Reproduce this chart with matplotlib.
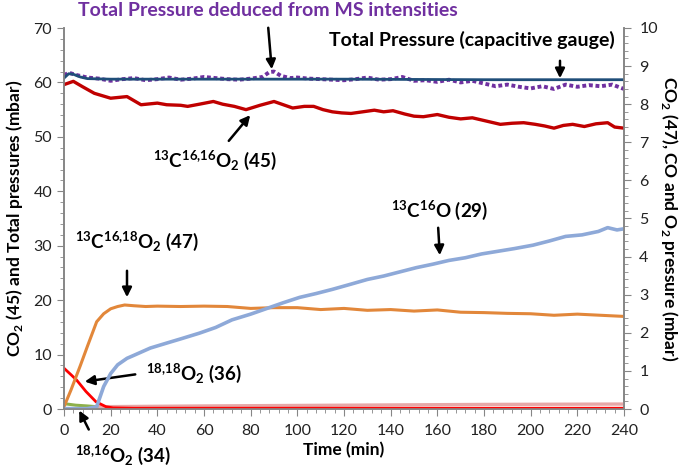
import numpy as np
import matplotlib
matplotlib.use('Agg')
import matplotlib.pyplot as plt
from matplotlib.ticker import MultipleLocator

plt.rcParams['font.family'] = ['Lato', 'DejaVu Sans']
plt.rcParams['mathtext.fontset'] = 'custom'
plt.rcParams['mathtext.rm'] = 'Lato'
plt.rcParams['mathtext.bf'] = 'Lato:bold'

# CO2 (45), left axis (mbar)
t_45 = [0, 4, 8, 13, 20, 27, 33, 40, 44, 50, 53, 58, 64, 68, 73, 78, 84, 90, 94, 98, 103, 107, 111, 115,
        119, 123, 128, 133, 137, 141, 146, 150, 154, 160, 165, 170, 175, 180, 184, 187, 192, 197, 202,
        206, 210, 214, 218, 223, 228, 233, 236, 240]
p_45 = [59.6, 60.2, 59.2, 58.0, 57.1, 57.4, 55.9, 56.2, 55.9, 55.8, 55.6, 56.0, 56.5, 56.0, 55.6, 55.0,
        55.8, 56.5, 55.9, 55.3, 55.6, 55.6, 55.0, 54.6, 54.4, 54.3, 54.6, 54.9, 54.6, 54.8, 54.2, 53.8,
        53.7, 54.1, 53.6, 53.3, 53.5, 53.0, 52.6, 52.3, 52.5, 52.6, 52.3, 52.0, 51.6, 52.1, 52.3, 51.9,
        52.4, 52.6, 51.8, 51.6]

# total pressure from MS intensities, left axis
t_ms = [0, 2, 5, 10, 15, 20, 25, 30, 35, 40, 45, 50, 55, 60, 65, 70, 75, 80, 85, 88, 90, 93, 97, 100,
        105, 110, 115, 120, 125, 130, 135, 140, 145, 150, 155, 160, 165, 170, 175, 180, 185, 190, 195,
        200, 205, 210, 215, 220, 225, 230, 235, 240]
p_ms = [61.3, 61.8, 61.4, 60.9, 60.7, 60.3, 60.6, 60.8, 60.4, 60.6, 60.9, 60.5, 60.7, 61.0, 60.8, 60.6,
        60.5, 60.7, 61.0, 61.9, 62.0, 61.2, 60.8, 60.9, 60.7, 60.6, 60.5, 60.4, 60.6, 60.9, 60.5, 60.6,
        61.0, 60.3, 60.4, 60.1, 60.5, 60.0, 60.3, 59.8, 59.3, 59.6, 59.2, 58.9, 59.3, 58.8, 59.6, 59.2,
        59.5, 59.3, 59.6, 58.8]

# total pressure from capacitive gauge, left axis
t_gauge = [0, 2, 4, 7, 10, 20, 60, 120, 180, 240]
p_gauge = [60.8, 61.6, 61.5, 61.0, 60.7, 60.6, 60.6, 60.6, 60.5, 60.5]

# CO2 (47), right axis
t_47 = [0, 3, 7, 10, 14, 17, 20, 23, 26, 30, 35, 40, 50, 60, 70, 80, 90, 100, 110, 120, 130, 140, 150,
        160, 170, 180, 190, 200, 210, 220, 230, 240]
p_47 = [0.06, 0.5, 1.14, 1.64, 2.29, 2.5, 2.63, 2.69, 2.73, 2.71, 2.69, 2.7, 2.69, 2.7, 2.69, 2.64, 2.66,
        2.66, 2.61, 2.64, 2.59, 2.61, 2.57, 2.6, 2.54, 2.53, 2.51, 2.5, 2.46, 2.49, 2.46, 2.43]

# CO (29), right axis
t_29 = [0, 10, 14, 17, 20, 23, 27, 30, 37, 44, 50, 58, 65, 72, 80, 87, 94, 101, 108, 115, 122, 130, 137,
        144, 151, 158, 165, 172, 179, 186, 193, 201, 208, 215, 222, 229, 233, 237, 240]
p_29 = [0.01, 0.01, 0.06, 0.59, 0.93, 1.16, 1.33, 1.41, 1.6, 1.73, 1.84, 1.99, 2.14, 2.34, 2.49, 2.64,
        2.79, 2.93, 3.03, 3.14, 3.26, 3.4, 3.49, 3.6, 3.71, 3.8, 3.9, 3.97, 4.07, 4.14, 4.21, 4.3, 4.41,
        4.53, 4.57, 4.66, 4.76, 4.7, 4.73]

# O2 (36) and O2 (34), right axis
t_36 = [0, 3, 5.4, 9.4, 13.7, 18, 21, 30, 60, 120, 180, 240]
p_36 = [1.07, 0.9, 0.76, 0.46, 0.19, 0.06, 0.03, 0.02, 0.02, 0.02, 0.02, 0.02]
t_34 = [0, 5, 10, 14]
p_34 = [0.14, 0.1, 0.08, 0.06]
t_34b = [14, 60, 120, 180, 240]
p_34b = [0.06, 0.08, 0.1, 0.12, 0.13]

fig = plt.figure(figsize=(6.85, 4.73), dpi=100)
ax = fig.add_axes([64/685, 1-409/473, 560/685, 381/473])
ax2 = ax.twinx()

ax.plot(t_45, p_45, color='#C00000', lw=2.4, zorder=3)
ax.plot(t_ms, p_ms, color='#7030A0', lw=2.8, ls=(0, (1, 0.7)), zorder=3)
ax.plot(t_gauge, p_gauge, color='#1F4E79', lw=2.0, zorder=4)

ax2.plot(t_34b, p_34b, color='#E6A8A8', lw=2.4)
ax2.plot(t_36, p_36, color='#FF0000', lw=2.0)
ax2.plot(t_34, p_34, color='#8DB04A', lw=2.2)
ax2.plot(t_47, p_47, color='#E2873A', lw=2.2)
ax2.plot(t_29, p_29, color='#8EA9D8', lw=2.6)

ax.set_xlim(0, 240)
ax.set_ylim(0, 70)
ax2.set_ylim(0, 10)
ax.xaxis.set_major_locator(MultipleLocator(20))
ax.xaxis.set_minor_locator(MultipleLocator(4))
ax.yaxis.set_major_locator(MultipleLocator(10))
ax.yaxis.set_minor_locator(MultipleLocator(2))
ax2.yaxis.set_major_locator(MultipleLocator(1))
ax2.yaxis.set_minor_locator(MultipleLocator(0.2))

grey = '#868686'
for a in (ax, ax2):
    a.spines['top'].set_visible(False)
    for s in ('left', 'right', 'bottom'):
        a.spines[s].set_color(grey)
        a.spines[s].set_linewidth(1.2)
    a.tick_params(which='both', direction='out', color=grey, labelsize=11.5, labelcolor='#222222')
    a.tick_params(which='major', length=5)
    a.tick_params(which='minor', length=3)
ax.tick_params(axis='x', pad=6)
ax2.tick_params(axis='y', pad=6)

ax.set_xlabel('Time (min)', fontsize=12.5, fontweight='bold', labelpad=3)
ax.set_ylabel(r'CO$_\mathbf{2}$ (45) and Total pressures (mbar)', fontsize=12.5, fontweight='bold', labelpad=6)
ax2.set_ylabel(r'CO$_\mathbf{2}$ (47), CO and O$_\mathbf{2}$ pressure (mbar)', fontsize=12.5,
               fontweight='bold', rotation=-90, labelpad=16)

def px(x, y):
    # figure pixel -> left-axis data coords
    return ((x - 64) / 560 * 240, (409 - y) / 381 * 70)

arrows = [((268, 25), (272, 72)), ((560, 58), (560, 81)), ((227, 143), (252, 113)),
          ((127, 268), (127, 300)), ((438, 225), (440, 258)), ((138, 374), (82, 382)),
          ((90, 432), (78, 408))]
for a0, a1 in arrows:
    ax.annotate('', xy=px(*a1), xytext=px(*a0), annotation_clip=False,
                arrowprops=dict(arrowstyle='-|>', color='black', lw=1.8, mutation_scale=14))

labels = [
    ('Total Pressure deduced from MS intensities', 268, 11, '#7030A0', 14),
    ('Total Pressure (capacitive gauge)', 472, 40, 'black', 14),
    (r'$\mathbf{^{13}C^{16{,}16}O_2}$ (45)', 215, 160, 'black', 13.5),
    (r'$\mathbf{^{13}C^{16{,}18}O_2}$ (47)', 137, 241, 'black', 13.5),
    (r'$\mathbf{^{13}C^{16}O}$ (29)', 440, 210, 'black', 13.5),
    (r'$\mathbf{^{18{,}18}O_2}$ (36)', 194, 373, 'black', 13.5),
    (r'$\mathbf{^{18{,}16}O_2}$ (34)', 123, 455, 'black', 13.5),
]
for txt, x, y, c, fs in labels:
    fig.text(x / 685, 1 - y / 473, txt, ha='center', va='center', fontsize=fs,
             fontweight='bold', color=c)

fig.savefig('out.png', dpi=100)
